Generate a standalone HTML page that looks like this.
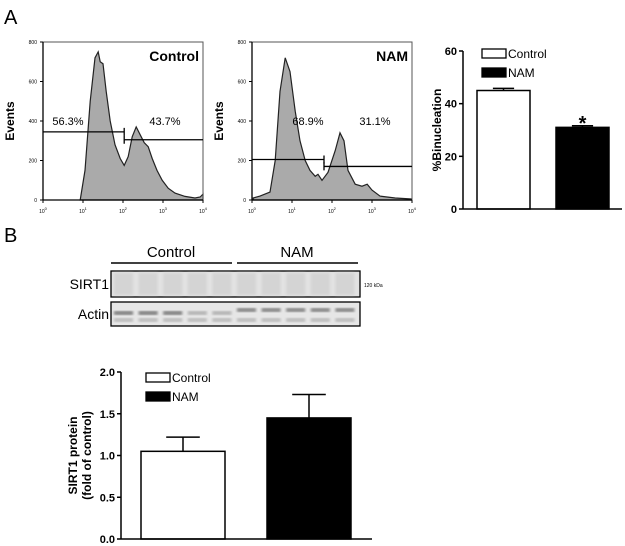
<!DOCTYPE html>
<html><head><meta charset="utf-8"><style>
body{margin:0;background:#fff}
svg{display:block;font-family:"Liberation Sans",Arial,sans-serif}
</style></head><body>
<svg id="fig" width="625" height="546" viewBox="0 0 625 546">
<text x="4" y="24" font-size="20">A</text>
<text x="4" y="242" font-size="20">B</text>
<g id="h1"></g>
<g id="h2"></g>
<g id="b1"></g>
<g id="blot"></g>
<g id="b2"></g>
</svg>
<script>
// Histogram data (log10 fluorescence, events)
const ctrlLog=[0.93,1.05,1.18,1.3,1.38,1.43,1.5,1.58,1.68,1.8,1.93,2.03,2.13,2.23,2.33,2.43,2.53,2.63,2.73,2.85,2.98,3.13,3.3,3.55,3.8,3.93,4];
const ctrlEv=[0,150,500,720,750,700,690,550,400,280,210,175,220,320,370,330,290,270,210,150,100,60,35,18,10,15,30];
const namLog=[0.03,0.2,0.45,0.58,0.7,0.83,0.95,1.08,1.2,1.33,1.45,1.58,1.65,1.75,1.9,2.08,2.2,2.3,2.4,2.58,2.75,2.88,3,3.2,3.58,3.98];
const namEv=[10,20,40,200,550,720,650,450,300,200,150,120,130,100,140,250,340,300,150,80,70,80,50,20,10,5];
const ctrlGates=[[0,2.03,345],[2.03,4,305]];
const namGates=[[0,1.8,205],[1.8,4,170]];
const ctrlPct=["56.3%","43.7%"];
const namPct=["68.9%","31.1%"];
const histYTicks=[0,200,400,600,800];
const histXTicks=[0,1,2,3,4];
// Binucleation bars
const binCats=["Control","NAM"];
const binVals=[45,31];
const binErr=[0.8,0.6];
const binTicks=[0,20,40,60];
// SIRT1 bars
const sirCats=["Control","NAM"];
const sirVals=[1.05,1.45];
const sirErr=[0.17,0.28];
const sirTicks=[0,0.5,1.0,1.5,2.0];

const NS="http://www.w3.org/2000/svg";
function mk(p,t,a,txt){const e=document.createElementNS(NS,t);for(const k in a)e.setAttribute(k,a[k]);if(txt!==undefined)e.textContent=txt;p.appendChild(e);return e;}

function hist(id,x0,logs,ev,gates,pct,title,pctX){
 const g=document.getElementById(id);
 const W=160,y0=42,y1=200;
 const sx=v=>x0+W*v/4, sy=v=>y1-(y1-y0)*v/800;
 let d="M"+sx(logs[0])+","+y1;
 logs.forEach((l,i)=>d+=" L"+sx(l).toFixed(1)+","+sy(ev[i]).toFixed(1));
 d+=" L"+sx(logs[logs.length-1])+","+y1+"Z";
 let e=mk(g,"path",{d:d,fill:"#aaa",stroke:"#222","stroke-width":1.2});
 
 
 e=mk(g,"rect",{x:x0,y:y0,width:W,height:y1-y0,fill:"none",stroke:"#555","stroke-width":1});
 
 
 mk(g,"line",{x1:x0,y1:y1,x2:x0+W,y2:y1,stroke:"#000","stroke-width":1.3});
 mk(g,"line",{x1:x0,y1:y0,x2:x0,y2:y1,stroke:"#000","stroke-width":1.3});
 histYTicks.forEach(t=>{mk(g,"line",{x1:x0-3,y1:sy(t),x2:x0,y2:sy(t),stroke:"#000"});
  e=mk(g,"text",{x:x0-6,y:sy(t)+2,"font-size":5,"text-anchor":"end"},t);
  
  });
 histXTicks.forEach(t=>{mk(g,"line",{x1:sx(t),y1:y1,x2:sx(t),y2:y1+3,stroke:"#000"});
  e=mk(g,"text",{x:sx(t),y:y1+13,"font-size":5,"text-anchor":"middle"},"10");
  
  
  mk(e,"tspan",{dy:-3,"font-size":4},String(t));});
 e=mk(g,"text",{x:0,y:0,"font-size":12,"font-weight":"bold","text-anchor":"middle",transform:"translate("+(x0-29)+",121) rotate(-90)"},"Events");
 
 
 gates.forEach((gt,i)=>{const y=sy(gt[2]);
  e=mk(g,"path",{d:"M"+sx(gt[0])+","+y+" H"+sx(gt[1])+(i==0?" M"+sx(gt[1])+","+(y-4)+" V"+(y+4):" M"+sx(gt[0])+","+(y-4)+" V"+(y+4)),stroke:"#000","stroke-width":1.3,fill:"none"});
  
  
  e=mk(g,"text",{x:pctX[i],y:125,"font-size":11,"text-anchor":"middle"},pct[i]);
  
  });
 e=mk(g,"text",{x:x0+W-4,y:61,"font-size":14,"font-weight":"bold","text-anchor":"end"},title);
 
 
}
hist("h1",43,ctrlLog,ctrlEv,ctrlGates,ctrlPct,"Control",[68,165]);
hist("h2",252,namLog,namEv,namGates,namPct,"NAM",[308,375]);

function bars(id,ax,base,top,vmax,ticks,vals,err,cats,bx,bw,xend,legY,title,fmt,star,titleX){
 const g=document.getElementById(id);
 const sy=v=>base-(base-top)*v/vmax;
 let e;
 vals.forEach((v,i)=>{
  e=mk(g,"line",{x1:bx[i]+bw/2,y1:sy(v),x2:bx[i]+bw/2,y2:sy(v+err[i]),stroke:"#000","stroke-width":1.5});
  
  
  mk(g,"line",{x1:bx[i]+bw/2-bw*0.2,y1:sy(v+err[i]),x2:bx[i]+bw/2+bw*0.2,y2:sy(v+err[i]),stroke:"#000","stroke-width":1.5});
  e=mk(g,"rect",{x:bx[i],y:sy(v),width:bw,height:base-sy(v),fill:i?"#000":"#fff",stroke:"#000","stroke-width":1.5});
  
  
 });
 if(star){e=mk(g,"text",{x:bx[1]+bw/2,y:sy(vals[1]+err[1])+4,"font-size":20,"font-weight":"bold","text-anchor":"middle"},"*");
  
  }
 mk(g,"line",{x1:ax,y1:top,x2:ax,y2:base,stroke:"#000","stroke-width":1.5});
 mk(g,"line",{x1:ax,y1:base,x2:xend,y2:base,stroke:"#000","stroke-width":1.5});
 ticks.forEach(t=>{mk(g,"line",{x1:ax-4,y1:sy(t),x2:ax,y2:sy(t),stroke:"#000","stroke-width":1.5});
  e=mk(g,"text",{x:ax-6,y:sy(t)+4,"font-size":11,"font-weight":"bold","text-anchor":"end"},fmt(t));
  
  });
 cats.forEach((c,i)=>{const ly=legY+i*19;
  e=mk(g,"rect",{x:bx[0]+5,y:ly,width:24,height:9,fill:i?"#000":"#fff",stroke:"#000","stroke-width":1.3});
  
  
  e=mk(g,"text",{x:bx[0]+31,y:ly+9,"font-size":12},c);
  
  });
 const tt=mk(g,"text",{"font-size":12,"font-weight":"bold","text-anchor":"middle",transform:"translate("+titleX+","+((base+top)/2)+") rotate(-90)"});
 
 
 title.forEach((l,i)=>mk(tt,"tspan",{x:0,dy:i?14:(title.length>1?-7:0)+4},l));
}
bars("b1",463,209,51,60,binTicks,binVals,binErr,binCats,[477,556],53,622,49,["%Binucleation"],t=>String(t),true,437);
bars("b2",121,539,372,2,sirTicks,sirVals,sirErr,sirCats,[141,267],84,372,373,["SIRT1 protein","(fold of control)"],t=>t.toFixed(1),false,80);

// Blot
(function(){
 const g=document.getElementById("blot");let e;
 e=mk(g,"text",{x:171,y:257,"font-size":15,"text-anchor":"middle"},"Control");
 e=mk(g,"text",{x:297,y:257,"font-size":15,"text-anchor":"middle"},"NAM");
 mk(g,"line",{x1:111,y1:263,x2:232,y2:263,stroke:"#000","stroke-width":1.5});
 mk(g,"line",{x1:237,y1:263,x2:358,y2:263,stroke:"#000","stroke-width":1.5});
 const defs=mk(g,"defs",{});const f=mk(defs,"filter",{id:"bl"});mk(f,"feGaussianBlur",{stdDeviation:1.2});
 e=mk(g,"rect",{x:111,y:271,width:249,height:26,fill:"#e2e2e2",stroke:"#000","stroke-width":1.3});
 e=mk(g,"rect",{x:111,y:302,width:249,height:24,fill:"#e6e6e6",stroke:"#000","stroke-width":1.3});
 const ints=[0.8,0.8,0.8,0.4,0.4,0.75,0.75,0.75,0.75,0.75];
 for(let i=0;i<10;i++){const x=113+i*24.6;
  mk(g,"rect",{x:x+1,y:273,width:19,height:22,fill:"#d4d4d4",filter:"url(#bl)"});
  mk(g,"rect",{x:x+1,y:i<5?311:308,width:19,height:4,fill:"#666","fill-opacity":ints[i],filter:"url(#bl)"});
  mk(g,"rect",{x:x+1,y:318,width:19,height:4,fill:"#bbb",filter:"url(#bl)"});}
 e=mk(g,"text",{x:109,y:289,"font-size":14,"text-anchor":"end"},"SIRT1");
 e=mk(g,"text",{x:109,y:319,"font-size":14,"text-anchor":"end"},"Actin");
 e=mk(g,"text",{x:364,y:287,"font-size":5},"120 kDa");
})();
</script>
</body></html>
